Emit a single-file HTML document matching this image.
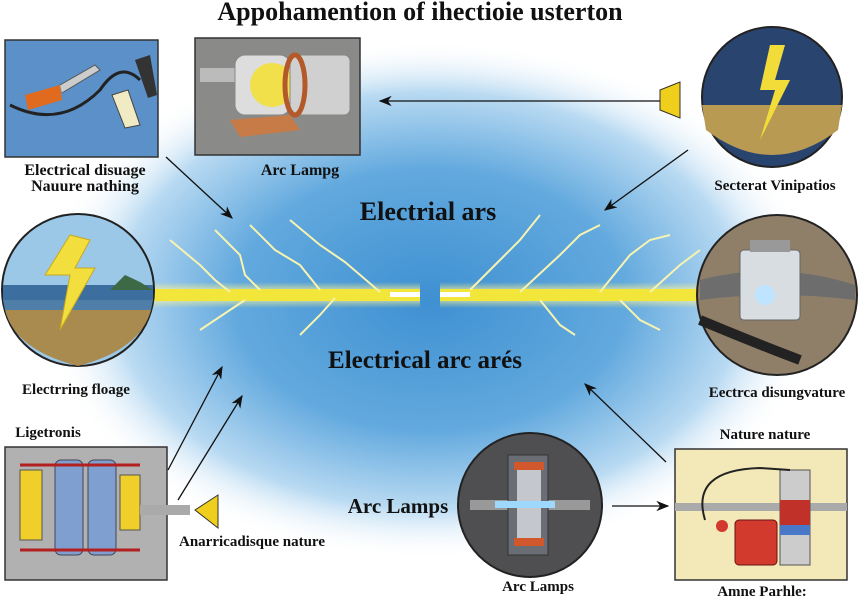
<!DOCTYPE html>
<html><head><meta charset="utf-8"><style>
html,body{margin:0;padding:0;background:#fff;}
svg{display:block;}
text{font-family:"Liberation Serif",serif;font-weight:bold;fill:#111;}
</style></head><body>
<svg width="860" height="602" viewBox="0 0 860 602" xmlns="http://www.w3.org/2000/svg">
<defs>
<radialGradient id="glow" cx="50%" cy="50%" r="50%">
<stop offset="0" stop-color="#3f90d2"/>
<stop offset="0.5" stop-color="#62a9de"/>
<stop offset="0.8" stop-color="#b9daf2"/>
<stop offset="1" stop-color="#ffffff" stop-opacity="0"/>
</radialGradient>
<linearGradient id="beam" x1="0" x2="0" y1="0" y2="1">
<stop offset="0" stop-color="#fff36a" stop-opacity="0"/>
<stop offset="0.5" stop-color="#fffbd0"/>
<stop offset="1" stop-color="#fff36a" stop-opacity="0"/>
</linearGradient>
<marker id="ah" markerWidth="10" markerHeight="8" refX="9" refY="4" orient="auto"><path d="M0,0 L10,4 L0,8 L3,4 z" fill="#111"/></marker>
</defs>
<ellipse cx="430" cy="300" rx="390" ry="260" fill="url(#glow)"/>
<text x="420" y="20" font-size="26" text-anchor="middle">Appohamention of ihectioie usterton</text>

<!-- beams -->
<rect x="150" y="282" width="270" height="26" fill="url(#beam)"/>
<rect x="150" y="289" width="270" height="12" fill="#f3e63a"/>
<rect x="440" y="282" width="260" height="26" fill="url(#beam)"/>
<rect x="440" y="289" width="260" height="12" fill="#f3e63a"/>
<rect x="390" y="292" width="30" height="5" fill="#fff"/>
<rect x="440" y="292" width="30" height="5" fill="#fff"/>
<g stroke="#f7f3b0" stroke-width="2" fill="none">
<path d="M170 240 L200 265 L215 280 L230 292"/><path d="M215 230 L240 255 L245 275 L260 290"/>
<path d="M250 225 L275 250 L300 265 L320 290"/><path d="M290 220 L320 245 L345 262 L380 292"/>
<path d="M200 330 L230 310 L245 300"/><path d="M300 335 L320 315 L335 298"/>
<path d="M470 290 L500 260 L520 240 L540 215"/><path d="M520 292 L560 255 L580 235 L600 225"/>
<path d="M600 292 L630 255 L650 240 L670 235"/><path d="M650 292 L680 265 L700 250"/>
<path d="M540 300 L560 325 L575 335"/><path d="M620 300 L640 320 L660 330"/>
</g>

<!-- top-left box -->
<rect x="5" y="40" width="153" height="117" fill="#5b90c8" stroke="#333" stroke-width="1.5"/>
<path d="M10 105 Q60 130 100 90 Q120 60 140 80" stroke="#222" stroke-width="3" fill="none"/>
<path d="M25 95 L60 85 L62 100 L28 110z" fill="#e06a1d"/>
<path d="M60 85 L95 65 L100 70 L62 93" fill="#ccc" stroke="#555"/>
<path d="M112 95 L128 90 L140 125 L125 128z" fill="#f1ebc4" stroke="#444"/>
<path d="M135 60 L150 55 L157 95 L148 98z" fill="#333"/>

<!-- top-middle box -->
<rect x="195" y="38" width="165" height="117" fill="#8a8a88" stroke="#333" stroke-width="1.5"/>
<rect x="200" y="68" width="70" height="14" fill="#bbb"/>
<rect x="235" y="55" width="55" height="60" rx="10" fill="#ddd" stroke="#888"/>
<circle cx="272" cy="85" r="22" fill="#f2e04a"/>
<rect x="290" y="55" width="60" height="60" rx="6" fill="#d0d0d0" stroke="#888"/>
<ellipse cx="295" cy="85" rx="10" ry="30" fill="none" stroke="#b45a2a" stroke-width="5"/>
<path d="M230 120 L290 115 L300 130 L240 137z" fill="#c77b47"/>

<!-- top right circle -->
<circle cx="772" cy="97" r="70" fill="#2a4470" stroke="#222" stroke-width="2"/>
<path d="M702 105 L842 105 L838 130 Q772 180 706 130z" fill="#b89a52"/>
<path d="M770 45 L760 90 L775 90 L760 140 L790 80 L775 80 L785 45z" fill="#f2dc3a"/>
<text x="775" y="190" font-size="15" text-anchor="middle">Secterat Vinipatios</text>
<path d="M660 90 L680 82 L680 118 L660 110z" fill="#f0cf1c" stroke="#333"/>
<line x1="660" y1="101" x2="380" y2="101" stroke="#111" stroke-width="1.3" marker-end="url(#ah)"/>
<line x1="688" y1="150" x2="605" y2="210" stroke="#111" stroke-width="1.3" marker-end="url(#ah)"/>
<line x1="166" y1="157" x2="232" y2="218" stroke="#111" stroke-width="1.3" marker-end="url(#ah)"/>

<text x="85" y="175" font-size="16" text-anchor="middle">Electrical disuage</text>
<text x="85" y="191" font-size="16" text-anchor="middle">Nauure nathing</text>
<text x="300" y="175" font-size="16" text-anchor="middle">Arc Lampg</text>
<text x="428" y="220" font-size="26" text-anchor="middle">Electrial ars</text>
<text x="425" y="368" font-size="25" text-anchor="middle">Electrical arc arés</text>

<!-- left circle -->
<circle cx="78" cy="290" r="76" fill="#9cc8e8" stroke="#222" stroke-width="2"/>
<path d="M3 285 L153 285 L153 300 L3 300z" fill="#3c6fa0"/>
<path d="M5 310 L151 310 Q140 350 78 366 Q15 350 5 310z" fill="#a98a4f"/>
<path d="M3 300 L153 300 L151 310 L5 310z" fill="#4f7ea8"/>
<path d="M110 290 L125 275 L140 282 L153 290z" fill="#3d6a45"/>
<path d="M70 235 L45 275 L70 275 L60 330 L95 268 L75 268 L90 240z" fill="#f2de3c" stroke="#c9a81e"/>
<text x="76" y="394" font-size="15" text-anchor="middle">Electrring floage</text>

<!-- right circle -->
<circle cx="777" cy="295" r="80" fill="#8f7f68" stroke="#222" stroke-width="2"/>
<path d="M700 280 Q777 260 855 285 L855 300 Q777 290 700 300z" fill="#6d6d6d"/>
<rect x="740" y="250" width="60" height="70" rx="4" fill="#d8dde2" stroke="#666"/>
<rect x="750" y="240" width="40" height="12" fill="#999"/>
<path d="M700 320 Q760 345 800 360" stroke="#222" stroke-width="10" fill="none"/>
<circle cx="765" cy="295" r="10" fill="#bfe4ff"/>
<text x="777" y="397" font-size="15" text-anchor="middle">Eectrca disungvature</text>

<!-- bottom left -->
<text x="48" y="437" font-size="15" text-anchor="middle">Ligetronis</text>
<rect x="5" y="447" width="162" height="133" fill="#b1b1b1" stroke="#333" stroke-width="1.5"/>
<rect x="20" y="470" width="22" height="70" fill="#f0cf2b" stroke="#555"/>
<rect x="55" y="460" width="28" height="95" rx="6" fill="#7f9fd0" stroke="#445"/>
<rect x="88" y="460" width="28" height="95" rx="6" fill="#7f9fd0" stroke="#445"/>
<rect x="120" y="475" width="20" height="55" fill="#f0cf2b" stroke="#555"/>
<path d="M20 465 L140 465 M20 550 L140 550" stroke="#b32020" stroke-width="3" fill="none"/>
<rect x="140" y="505" width="50" height="10" fill="#aaa"/>
<path d="M195 510 L218 495 L218 528z" fill="#f0cf1c" stroke="#333"/>
<text x="252" y="546" font-size="15" text-anchor="middle">Anarricadisque nature</text>
<line x1="178" y1="500" x2="242" y2="396" stroke="#111" stroke-width="1.3" marker-end="url(#ah)"/>
<line x1="168" y1="470" x2="222" y2="367" stroke="#111" stroke-width="1.3" marker-end="url(#ah)"/>

<!-- bottom middle circle -->
<text x="398" y="513" font-size="21" text-anchor="middle">Arc Lamps</text>
<circle cx="530" cy="505" r="72" fill="#4f4f52" stroke="#222" stroke-width="2"/>
<rect x="470" y="500" width="120" height="10" fill="#999"/>
<rect x="508" y="455" width="40" height="100" fill="#6a6d74" stroke="#333"/>
<rect x="517" y="462" width="24" height="84" fill="#c4c8cd"/>
<rect x="514" y="462" width="30" height="8" fill="#d0582c"/><rect x="514" y="538" width="30" height="8" fill="#d0582c"/>
<rect x="495" y="501" width="60" height="7" fill="#9fd8ff"/>
<text x="538" y="591" font-size="15" text-anchor="middle">Arc Lamps</text>
<line x1="612" y1="506" x2="668" y2="506" stroke="#111" stroke-width="1.3" marker-end="url(#ah)"/>
<line x1="666" y1="462" x2="585" y2="384" stroke="#111" stroke-width="1.3" marker-end="url(#ah)"/>

<!-- bottom right -->
<text x="765" y="439" font-size="15" text-anchor="middle">Nature nature</text>
<rect x="675" y="449" width="172" height="131" fill="#f2e8b8" stroke="#333" stroke-width="1.5"/>
<rect x="675" y="503" width="172" height="8" fill="#aaa"/>
<rect x="780" y="470" width="30" height="95" fill="#ccc" stroke="#555"/>
<rect x="780" y="500" width="30" height="25" fill="#c0312a"/>
<rect x="780" y="525" width="30" height="10" fill="#4a78c8"/>
<rect x="735" y="520" width="42" height="45" rx="4" fill="#d33a2e" stroke="#611"/>
<circle cx="722" cy="526" r="6" fill="#d33a2e"/>
<path d="M705 520 Q690 470 760 468 L790 470" stroke="#222" stroke-width="2" fill="none"/>
<text x="762" y="596" font-size="15" text-anchor="middle">Amne Parhle:</text>
</svg>
</body></html>
